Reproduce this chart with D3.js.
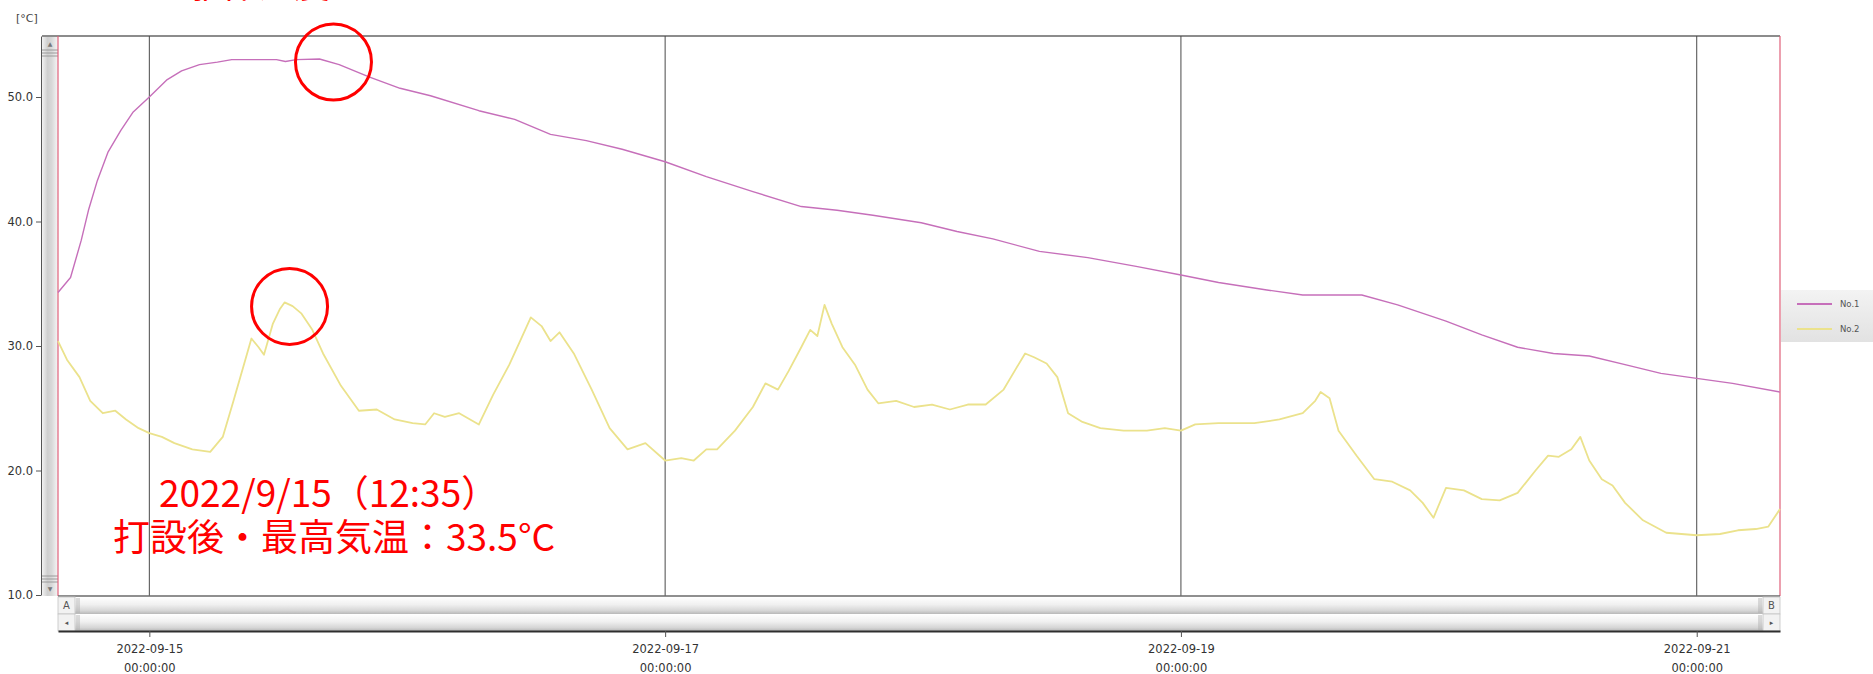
<!DOCTYPE html>
<html>
<head>
<meta charset="utf-8">
<script src="https://cdn.jsdelivr.net/npm/d3@7"></script>
<style>
  html, body { margin: 0; padding: 0; background: #ffffff; }
  svg { display: block; }
</style>
</head>
<body>
<svg id="chart" width="1873" height="674"></svg>
<script>
// Logger readings, 2022-09-14 .. 2022-09-21
const seriesNames = ["No.1", "No.2"];
const seriesColors = ["#c66fba", "#ebe28c"];

// No.1 : concrete body temperature [°C]
const no1Times = [
  "2022-09-14 15:30", "2022-09-14 16:40", "2022-09-14 17:40", "2022-09-14 18:20", "2022-09-14 19:10",
  "2022-09-14 20:10", "2022-09-14 21:20", "2022-09-14 22:30", "2022-09-15 00:00", "2022-09-15 01:40",
  "2022-09-15 03:00", "2022-09-15 04:40", "2022-09-15 06:20", "2022-09-15 07:40", "2022-09-15 11:50",
  "2022-09-15 12:40", "2022-09-15 13:40", "2022-09-15 15:50", "2022-09-15 17:40", "2022-09-15 20:30",
  "2022-09-15 23:20", "2022-09-16 02:10", "2022-09-16 06:40", "2022-09-16 10:00", "2022-09-16 13:20",
  "2022-09-16 16:40", "2022-09-16 20:00", "2022-09-17 00:00", "2022-09-17 03:50", "2022-09-17 08:10",
  "2022-09-17 12:40", "2022-09-17 16:00", "2022-09-17 19:20", "2022-09-17 23:50", "2022-09-18 03:10",
  "2022-09-18 06:30", "2022-09-18 10:50", "2022-09-18 15:20", "2022-09-18 19:50", "2022-09-19 00:00",
  "2022-09-19 03:30", "2022-09-19 08:00", "2022-09-19 11:20", "2022-09-19 16:50", "2022-09-19 20:10",
  "2022-09-20 00:40", "2022-09-20 04:00", "2022-09-20 07:20", "2022-09-20 10:40", "2022-09-20 14:00",
  "2022-09-20 17:20", "2022-09-20 20:40", "2022-09-21 00:00", "2022-09-21 03:20", "2022-09-21 07:45"
];
const no1Values = [
  34.3, 35.5, 38.5, 40.9, 43.3,
  45.6, 47.3, 48.8, 50.0, 51.4,
  52.1, 52.6, 52.8, 53.0, 53.0,
  52.85, 53.0, 53.05, 52.6, 51.6,
  50.7, 50.1, 48.9, 48.2, 47.0,
  46.5, 45.8, 44.8, 43.6, 42.4,
  41.2, 40.9, 40.5, 39.9, 39.2,
  38.6, 37.6, 37.1, 36.4, 35.7,
  35.1, 34.5, 34.1, 34.1, 33.3,
  32.0, 30.9, 29.9, 29.4, 29.2,
  28.5, 27.8, 27.4, 27.0, 26.3
];

// No.2 : air temperature [°C]
const no2Times = [
  "2022-09-14 15:30", "2022-09-14 16:20", "2022-09-14 17:30", "2022-09-14 18:30", "2022-09-14 19:40",
  "2022-09-14 20:50", "2022-09-14 21:50", "2022-09-14 23:00", "2022-09-15 00:00", "2022-09-15 01:10",
  "2022-09-15 02:20", "2022-09-15 04:00", "2022-09-15 05:40", "2022-09-15 06:50", "2022-09-15 07:50",
  "2022-09-15 09:00", "2022-09-15 09:30", "2022-09-15 10:10", "2022-09-15 10:40", "2022-09-15 11:30",
  "2022-09-15 12:10", "2022-09-15 12:35", "2022-09-15 13:20", "2022-09-15 14:10", "2022-09-15 15:10",
  "2022-09-15 16:10", "2022-09-15 17:50", "2022-09-15 19:30", "2022-09-15 21:10", "2022-09-15 22:50",
  "2022-09-16 00:30", "2022-09-16 01:40", "2022-09-16 02:30", "2022-09-16 03:30", "2022-09-16 04:50",
  "2022-09-16 06:40", "2022-09-16 08:00", "2022-09-16 09:30", "2022-09-16 10:30", "2022-09-16 11:30",
  "2022-09-16 12:30", "2022-09-16 13:20", "2022-09-16 14:10", "2022-09-16 15:30", "2022-09-16 17:10",
  "2022-09-16 18:50", "2022-09-16 20:30", "2022-09-16 22:10", "2022-09-17 00:00", "2022-09-17 01:30",
  "2022-09-17 02:40", "2022-09-17 03:50", "2022-09-17 04:50", "2022-09-17 06:30", "2022-09-17 08:10",
  "2022-09-17 09:20", "2022-09-17 10:30", "2022-09-17 11:30", "2022-09-17 12:40", "2022-09-17 13:30",
  "2022-09-17 14:10", "2022-09-17 14:50", "2022-09-17 15:30", "2022-09-17 16:30", "2022-09-17 17:40",
  "2022-09-17 18:50", "2022-09-17 19:50", "2022-09-17 21:30", "2022-09-17 23:10", "2022-09-18 00:50",
  "2022-09-18 02:30", "2022-09-18 04:10", "2022-09-18 05:50", "2022-09-18 07:30", "2022-09-18 08:40",
  "2022-09-18 09:30", "2022-09-18 10:20", "2022-09-18 11:30", "2022-09-18 12:30", "2022-09-18 13:30",
  "2022-09-18 14:50", "2022-09-18 16:30", "2022-09-18 18:40", "2022-09-18 20:50", "2022-09-18 22:30",
  "2022-09-19 00:00", "2022-09-19 01:20", "2022-09-19 03:30", "2022-09-19 06:50", "2022-09-19 09:10",
  "2022-09-19 11:20", "2022-09-19 12:30", "2022-09-19 13:00", "2022-09-19 13:50", "2022-09-19 14:40",
  "2022-09-19 16:20", "2022-09-19 18:00", "2022-09-19 19:40", "2022-09-19 21:20", "2022-09-19 22:30",
  "2022-09-19 23:30", "2022-09-20 00:40", "2022-09-20 02:20", "2022-09-20 04:00", "2022-09-20 05:40",
  "2022-09-20 07:20", "2022-09-20 09:00", "2022-09-20 10:10", "2022-09-20 11:10", "2022-09-20 12:20",
  "2022-09-20 13:10", "2022-09-20 14:00", "2022-09-20 15:10", "2022-09-20 16:10", "2022-09-20 17:20",
  "2022-09-20 19:00", "2022-09-20 21:10", "2022-09-21 00:00", "2022-09-21 02:10", "2022-09-21 03:50",
  "2022-09-21 05:30", "2022-09-21 06:40", "2022-09-21 07:45"
];
const no2Values = [
  30.4, 28.9, 27.5, 25.6, 24.6,
  24.8, 24.1, 23.4, 23.0, 22.7,
  22.2, 21.7, 21.5, 22.7, 25.6,
  29.1, 30.6, 29.9, 29.3, 31.8,
  33.0, 33.5, 33.2, 32.6, 31.3,
  29.4, 26.8, 24.8, 24.9, 24.1,
  23.8, 23.7, 24.6, 24.3, 24.6,
  23.7, 26.1, 28.5, 30.4, 32.3,
  31.6, 30.4, 31.1, 29.4, 26.5,
  23.4, 21.7, 22.2, 20.8, 21.0,
  20.8, 21.7, 21.7, 23.2, 25.1,
  27.0, 26.5, 28.0, 29.9, 31.3,
  30.8, 33.3, 31.8, 29.9, 28.5,
  26.5, 25.4, 25.6, 25.1, 25.3,
  24.9, 25.3, 25.3, 26.5, 28.2,
  29.4, 29.1, 28.6, 27.5, 24.6,
  23.9, 23.4, 23.2, 23.2, 23.4,
  23.2, 23.7, 23.8, 23.8, 24.1,
  24.6, 25.6, 26.3, 25.8, 23.2,
  21.2, 19.3, 19.1, 18.4, 17.4,
  16.2, 18.6, 18.4, 17.7, 17.6,
  18.2, 20.0, 21.2, 21.1, 21.7,
  22.7, 20.8, 19.3, 18.8, 17.4,
  16.0, 15.0, 14.8, 14.9, 15.2,
  15.3, 15.5, 16.9
];

const timeRange = ["2022-09-14 15:30", "2022-09-21 07:45"];
const dateTicks = ["2022-09-15 00:00", "2022-09-17 00:00", "2022-09-19 00:00", "2022-09-21 00:00"];
const yTicks = [10, 20, 30, 40, 50];
const yRange = [10, 54.9];

const noteLines = ["2022/9/15（12:35）", "打設後・最高気温：33.5°C"];
const headingText = "躯体温度";

// ---------------------------------------------------------------
const parse = d3.timeParse("%Y-%m-%d %H:%M");
const svg = d3.select("#chart");
const W = 1873, H = 674;
const plot = { left: 58, right: 1780, top: 36, bottom: 596 };

const x = d3.scaleTime().domain(timeRange.map(parse)).range([plot.left, plot.right]);
const y = d3.scaleLinear().domain(yRange).range([595, plot.top]);

const defs = svg.append("defs");
const vGrad = defs.append("linearGradient").attr("id", "vbar").attr("x1", 0).attr("x2", 1).attr("y1", 0).attr("y2", 0);
[[0, "#f2f2f2"], [0.35, "#cfcfcf"], [0.6, "#d8d8d8"], [1, "#f6f6f6"]].forEach(([o, c]) =>
  vGrad.append("stop").attr("offset", o).attr("stop-color", c));
const hGrad = defs.append("linearGradient").attr("id", "hbar").attr("x1", 0).attr("x2", 0).attr("y1", 0).attr("y2", 1);
[[0, "#ffffff"], [0.45, "#f0f0f0"], [0.8, "#d6d6d6"], [1, "#b8b8b8"]].forEach(([o, c]) =>
  hGrad.append("stop").attr("offset", o).attr("stop-color", c));
const lGrad = defs.append("linearGradient").attr("id", "legbg").attr("x1", 0).attr("x2", 0).attr("y1", 0).attr("y2", 1);
[[0, "#f3f3f3"], [1, "#e2e2e2"]].forEach(([o, c]) =>
  lGrad.append("stop").attr("offset", o).attr("stop-color", c));

svg.append("rect").attr("width", W).attr("height", H).attr("fill", "#ffffff");

// unit label
svg.append("text").attr("x", 16).attr("y", 22)
  .attr("font-family", "DejaVu Sans").attr("font-size", 11).attr("fill", "#444")
  .text("[°C]");

// y axis
const yAxis = svg.append("g").attr("transform", `translate(41,0)`)
  .call(d3.axisLeft(y).tickValues(yTicks).tickFormat(d3.format(".1f")).tickSize(5).tickSizeOuter(0).tickPadding(3));
yAxis.select(".domain").attr("stroke", "#555");
yAxis.selectAll(".tick line").attr("stroke", "#555");
yAxis.selectAll(".tick text").attr("font-family", "DejaVu Sans").attr("font-size", 11.5).attr("fill", "#333");

// vertical scroll strip
svg.append("rect").attr("x", 42).attr("y", plot.top).attr("width", plot.left - 42).attr("height", plot.bottom - plot.top)
  .attr("fill", "url(#vbar)");
[50, 53, 56].forEach(v => svg.append("line").attr("x1", 42).attr("x2", plot.left).attr("y1", v).attr("y2", v)
  .attr("stroke", "#9a9a9a").attr("stroke-width", 1));
[576, 579, 582].forEach(v => svg.append("line").attr("x1", 42).attr("x2", plot.left).attr("y1", v).attr("y2", v)
  .attr("stroke", "#9a9a9a").attr("stroke-width", 1));
svg.append("text").attr("x", 50).attr("y", 46).attr("text-anchor", "middle")
  .attr("font-family", "DejaVu Sans").attr("font-size", 6).attr("fill", "#777").text("▲");
svg.append("text").attr("x", 50).attr("y", 591).attr("text-anchor", "middle")
  .attr("font-family", "DejaVu Sans").attr("font-size", 6).attr("fill", "#777").text("▼");

// plot frame
svg.append("rect").attr("x", plot.left).attr("y", plot.top).attr("width", plot.right - plot.left)
  .attr("height", plot.bottom - plot.top).attr("fill", "#ffffff");
svg.append("line").attr("x1", 42).attr("x2", plot.right).attr("y1", plot.top).attr("y2", plot.top)
  .attr("stroke", "#8c8c8c").attr("stroke-width", 2);

// date grid lines
svg.append("g").selectAll("line").data(dateTicks.map(parse)).join("line")
  .attr("x1", d => x(d)).attr("x2", d => x(d))
  .attr("y1", plot.top).attr("y2", plot.bottom)
  .attr("stroke", "#4a4a4a").attr("stroke-width", 1);

svg.append("line").attr("x1", plot.left).attr("x2", plot.left).attr("y1", plot.top).attr("y2", plot.bottom)
  .attr("stroke", "#e0607a").attr("stroke-width", 1.2);
svg.append("line").attr("x1", plot.right).attr("x2", plot.right).attr("y1", plot.top).attr("y2", plot.bottom)
  .attr("stroke", "#e0607a").attr("stroke-width", 1.2);
svg.append("line").attr("x1", plot.left).attr("x2", plot.right).attr("y1", plot.bottom).attr("y2", plot.bottom)
  .attr("stroke", "#6a6a6a").attr("stroke-width", 1.5);

// series lines
const series = [
  { name: seriesNames[0], color: seriesColors[0], pts: no1Times.map((t, i) => ({ t: parse(t), v: no1Values[i] })) },
  { name: seriesNames[1], color: seriesColors[1], pts: no2Times.map((t, i) => ({ t: parse(t), v: no2Values[i] })) }
];
const line = d3.line().x(d => x(d.t)).y(d => y(d.v));
svg.append("g").selectAll("path").data(series).join("path")
  .attr("d", d => line(d.pts)).attr("fill", "none")
  .attr("stroke", d => d.color).attr("stroke-width", (d, i) => (i === 0 ? 1.4 : 1.8))
  .attr("stroke-linejoin", "round");

// horizontal scroll bars under the plot
const rows = [{ y0: 597, y1: 614, l: "A", r: "B", fs: 10 }, { y0: 614, y1: 631, l: "◂", r: "▸", fs: 7 }];
rows.forEach(rw => {
  svg.append("rect").attr("x", plot.left).attr("y", rw.y0).attr("width", plot.right - plot.left)
    .attr("height", rw.y1 - rw.y0).attr("fill", "url(#hbar)");
  svg.append("rect").attr("x", plot.left).attr("y", rw.y0).attr("width", 17).attr("height", rw.y1 - rw.y0)
    .attr("fill", "#f2f2f2").attr("stroke", "#c4c4c4").attr("stroke-width", 0.8);
  svg.append("rect").attr("x", plot.right - 17).attr("y", rw.y0).attr("width", 17).attr("height", rw.y1 - rw.y0)
    .attr("fill", "#f2f2f2").attr("stroke", "#c4c4c4").attr("stroke-width", 0.8);
  [plot.left + 19, plot.left + 21, plot.right - 21, plot.right - 19].forEach(xx =>
    svg.append("line").attr("x1", xx).attr("x2", xx).attr("y1", rw.y0 + 1).attr("y2", rw.y1 - 1)
      .attr("stroke", "#a8a8a8").attr("stroke-width", 0.8));
  svg.append("text").attr("x", plot.left + 8.5).attr("y", (rw.y0 + rw.y1) / 2 + rw.fs * 0.36)
    .attr("text-anchor", "middle").attr("font-family", "DejaVu Sans").attr("font-size", rw.fs)
    .attr("fill", "#555").text(rw.l);
  svg.append("text").attr("x", plot.right - 8.5).attr("y", (rw.y0 + rw.y1) / 2 + rw.fs * 0.36)
    .attr("text-anchor", "middle").attr("font-family", "DejaVu Sans").attr("font-size", rw.fs)
    .attr("fill", "#555").text(rw.r);
});

// x axis (two-line date labels)
const fmtDate = d3.timeFormat("%Y-%m-%d"), fmtTime = d3.timeFormat("%H:%M:%S");
const xAxis = svg.append("g").attr("transform", `translate(0,631)`)
  .call(d3.axisBottom(x).tickValues(dateTicks.map(parse)).tickSize(6).tickSizeOuter(0).tickFormat(""));
xAxis.select(".domain").attr("stroke", "#2e2e2e").attr("stroke-width", 2);
xAxis.selectAll(".tick line").attr("stroke", "#555");
xAxis.selectAll(".tick").each(function (d) {
  const t = d3.select(this).select("text").attr("y", 0).attr("dy", null)
    .attr("font-family", "DejaVu Sans").attr("font-size", 11.5).attr("fill", "#333");
  t.append("tspan").attr("x", 0).attr("y", 22).text(fmtDate(d));
  t.append("tspan").attr("x", 0).attr("y", 41).text(fmtTime(d));
});

// legend
const lg = svg.append("g").attr("transform", "translate(1781,290)");
lg.append("rect").attr("width", 92).attr("height", 52).attr("fill", "url(#legbg)");
series.forEach((s, i) => {
  const yy = 14 + i * 25;
  lg.append("line").attr("x1", 16).attr("x2", 51).attr("y1", yy).attr("y2", yy)
    .attr("stroke", s.color).attr("stroke-width", 2.2);
  lg.append("text").attr("x", 59).attr("y", yy + 3).attr("font-family", "DejaVu Sans")
    .attr("font-size", 8.5).attr("fill", "#555").text(s.name);
});

// annotations: circles around the two daytime peaks
const peakNo1 = series[0].pts.reduce((a, b) => (b.v > a.v ? b : a));
const peakNo2 = series[1].pts.filter(p => p.t < parse("2022-09-16 00:00")).reduce((a, b) => (b.v > a.v ? b : a));
svg.append("circle").attr("cx", x(peakNo1.t) + 14).attr("cy", y(peakNo1.v) + 3).attr("r", 38)
  .attr("fill", "none").attr("stroke", "#ff0000").attr("stroke-width", 3);
svg.append("circle").attr("cx", x(peakNo2.t) + 5).attr("cy", y(peakNo2.v) + 4).attr("r", 38)
  .attr("fill", "none").attr("stroke", "#ff0000").attr("stroke-width", 3);

svg.append("text").attr("x", 186).attr("y", -2)
  .attr("font-family", "Noto Sans CJK JP").attr("font-size", 36).attr("fill", "#ff0000")
  .text(headingText);

svg.append("text").attr("x", 159).attr("y", 507)
  .attr("font-family", "Noto Sans CJK JP").attr("font-size", 37).attr("fill", "#ff0000")
  .text(noteLines[0]);
svg.append("text").attr("x", 113).attr("y", 551)
  .attr("font-family", "Noto Sans CJK JP").attr("font-size", 37).attr("fill", "#ff0000")
  .text(noteLines[1]);
</script>
</body>
</html>
